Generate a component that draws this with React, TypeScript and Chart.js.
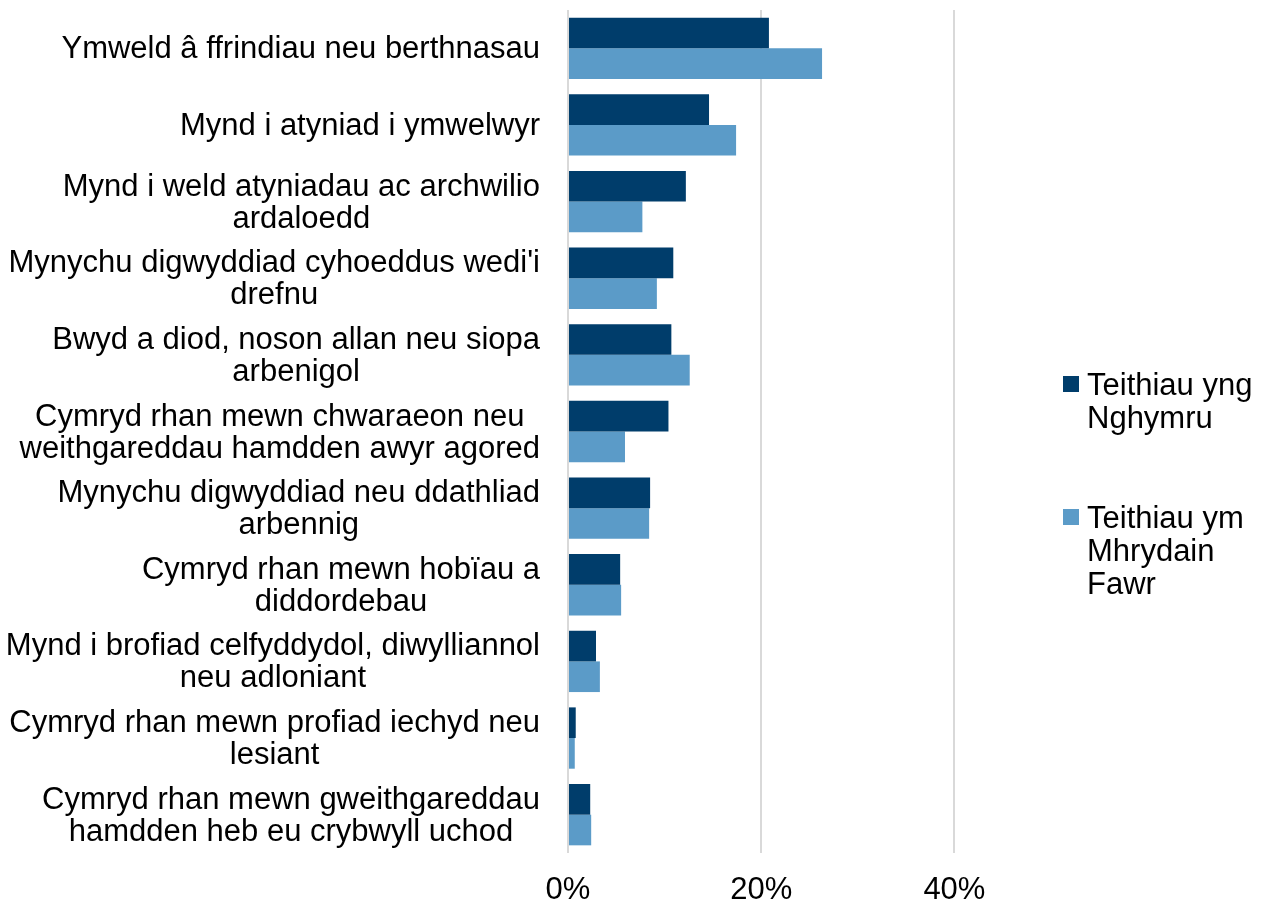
import React, { useEffect, useRef } from "react";
import { Chart, registerables } from "chart.js";

Chart.register(...registerables);

const CATEGORIES: string[][] = [
  ["Ymweld â ffrindiau neu berthnasau"],
  ["Mynd i atyniad i ymwelwyr "],
  ["Mynd i weld atyniadau ac archwilio", "ardaloedd"],
  ["Mynychu digwyddiad cyhoeddus wedi'i", "drefnu"],
  ["Bwyd a diod, noson allan neu siopa", "arbenigol"],
  ["Cymryd rhan mewn chwaraeon neu ", "weithgareddau hamdden awyr agored"],
  ["Mynychu digwyddiad neu ddathliad", "arbennig"],
  ["Cymryd rhan mewn hobïau a", "diddordebau"],
  ["Mynd i brofiad celfyddydol, diwylliannol", "neu adloniant"],
  ["Cymryd rhan mewn profiad iechyd neu", "lesiant"],
  ["Cymryd rhan mewn gweithgareddau", "hamdden heb eu crybwyll uchod"],
];

const WALES_TRIPS: number[] = [20.8, 14.6, 12.2, 10.9, 10.7, 10.4, 8.5, 5.4, 2.9, 0.8, 2.3];
const GB_TRIPS: number[] = [26.3, 17.4, 7.7, 9.2, 12.6, 5.9, 8.4, 5.5, 3.3, 0.7, 2.4];

const SERIES_LABELS: string[][] = [
  ["Teithiau yng", "Nghymru"],
  ["Teithiau ym", "Mhrydain", "Fawr"],
];

const X_TICKS: number[] = [0, 20, 40];
const X_MAX = 50;

const DARK = "#003D6B";
const LIGHT = "#5B9BC8";
const FONT = "'Liberation Sans', Arial, sans-serif";

const labelPlugin = {
  id: "customLabels",
  afterDraw(chart: any) {
    const ctx = chart.ctx;
    const yScale = chart.scales.y;
    const area = chart.chartArea;
    ctx.save();
    ctx.font = `31px ${FONT}`;
    ctx.fillStyle = "#000";
    ctx.textBaseline = "middle";
    ctx.textAlign = "center";
    const rightEdge = area.left - 28;
    const lh = 32;
    CATEGORIES.forEach((lines, i) => {
      const cy = yScale.getPixelForValue(i) + 1.5;
      const widths = lines.map((l) => ctx.measureText(l.trimEnd()).width);
      const maxW = Math.max(...widths);
      const cx = rightEdge - maxW / 2;
      const startY = cy - ((lines.length - 1) * lh) / 2;
      lines.forEach((l, j) => {
        ctx.fillText(l.trimEnd(), cx, startY + j * lh);
      });
    });

    // legend
    const colors = [DARK, LIGHT];
    const legendX = area.right + 12;
    const starts = [386, 519];
    const llh = 33;
    ctx.textAlign = "left";
    SERIES_LABELS.forEach((lines, i) => {
      const y0 = starts[i];
      ctx.fillStyle = colors[i];
      ctx.fillRect(legendX, y0 - 10, 16, 16);
      ctx.fillStyle = "#000";
      lines.forEach((l, j) => {
        ctx.fillText(l, legendX + 24, y0 + j * llh);
      });
    });
    ctx.restore();
  },
};

export default function App() {
  const ref = useRef<HTMLCanvasElement | null>(null);
  useEffect(() => {
    if (!ref.current) return;
    const chart = new Chart(ref.current, {
      type: "bar",
      data: {
        labels: CATEGORIES.map((l) => l.join(" ")),
        datasets: [
          {
            label: SERIES_LABELS[0].join(" "),
            data: WALES_TRIPS,
            backgroundColor: DARK,
            borderWidth: 0,
            categoryPercentage: 0.8,
            barPercentage: 1.0,
          },
          {
            label: SERIES_LABELS[1].join(" "),
            data: GB_TRIPS,
            backgroundColor: LIGHT,
            borderWidth: 0,
            categoryPercentage: 0.8,
            barPercentage: 1.0,
          },
        ],
      },
      options: {
        indexAxis: "y",
        animation: false,
        responsive: false,
        maintainAspectRatio: false,
        layout: { padding: { left: 568, top: 10, right: 211, bottom: 0 } },
        plugins: {
          legend: { display: false },
          tooltip: { enabled: false },
        },
        scales: {
          x: {
            min: 0,
            max: X_MAX,
            afterBuildTicks: (axis: any) => {
              axis.ticks = X_TICKS.map((v) => ({ value: v }));
            },
            afterFit: (axis: any) => {
              axis.height = 52;
            },
            ticks: {
              padding: 19,
              color: "#000",
              font: { family: FONT, size: 31 },
              callback: (v: any) => `${v}%`,
            },
            grid: { color: "#D9D9D9", lineWidth: 2, drawTicks: false },
            border: { display: false },
          },
          y: {
            display: false,
          },
        },
      },
      plugins: [labelPlugin],
    });
    return () => chart.destroy();
  }, []);
  return (
    <div style={{ position: "absolute", left: 0, top: 0, width: 1262, height: 905, background: "#fff" }}>
      <canvas ref={ref} width={1262} height={905} style={{ display: "block" }} />
    </div>
  );
}
